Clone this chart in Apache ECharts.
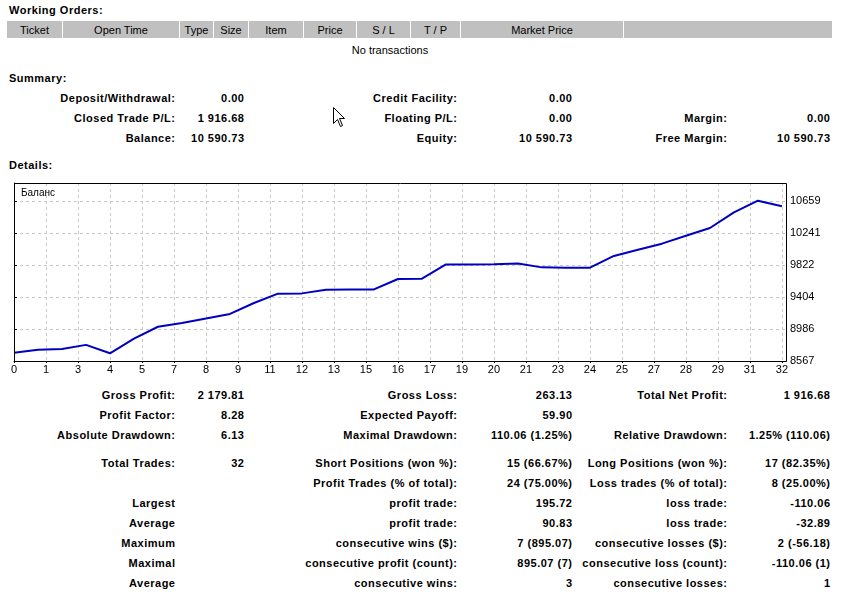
<!DOCTYPE html>
<html>
<head>
<meta charset="utf-8">
<script src="https://cdn.jsdelivr.net/npm/echarts@6/dist/echarts.min.js"></script>
<style>
  body { margin: 0; background: #fff; width: 841px; height: 592px; overflow: hidden; position: relative;
         font-family: "Liberation Sans", Arial, sans-serif; font-size: 11px; color: #000; }
  .t { position: absolute; white-space: nowrap; line-height: 14px; }
  .b { font-weight: bold; letter-spacing: 0.5px; }
  #hdr { position: absolute; left: 7px; top: 21px; width: 826px; height: 17px; background: #c0c0c0; }
  .hc { position: absolute; top: 0; height: 17px; line-height: 19px; text-align: center;
        border-right: 1px solid #fff; box-sizing: border-box; }
  #chart { position: absolute; left: 0; top: 175px; width: 841px; height: 205px; }
</style>
</head>
<body>
<div id="hdr"></div>
<div id="chart"></div>
<svg style="position:absolute;left:333px;top:107px" width="13" height="21">
  <path d="M0.5 0.5 L0.5 16.5 L4.5 12.5 L7.5 19.5 L9.5 18.5 L6.5 11.5 L11.5 11.5 Z" fill="#fff" stroke="#000" stroke-width="1"/>
</svg>
<script>
// balance after each closed trade (trade 0 = start)
const balance = [8674.05, 8715, 8724, 8777.98, 8667.92, 8859, 9015, 9064, 9124, 9182,
                 9325, 9447, 9451, 9499, 9503, 9503, 9639, 9643, 9830, 9830,
                 9832, 9843, 9791, 9787, 9787, 9940, 10022, 10101, 10205, 10306,
                 10510, 10663, 10590.73]
const xTickLabels = ['0','1','3','4','5','7','8','9','11','12','13','15','16','17','19','20','21','23','24','25','27','28','29','31','32']
const yTickLabels = ['8567','8986','9404','9822','10241','10659']
const yBase = 8567
const yStep = 418.4
const xStep = 4 / 3

// header of the orders table: [name, left, right]
const orderCols = [['Ticket',7,63],['Open Time',63,180],['Type',180,214],['Size',214,249],['Item',249,304],
                   ['Price',304,357],['S / L',357,411],['T / P',411,461],['Market Price',461,624],['',624,833]]

const summaryRows = [
  ['Deposit/Withdrawal:', '0.00', 'Credit Facility:', '0.00', '', ''],
  ['Closed Trade P/L:', '1 916.68', 'Floating P/L:', '0.00', 'Margin:', '0.00'],
  ['Balance:', '10 590.73', 'Equity:', '10 590.73', 'Free Margin:', '10 590.73']
]
const statRows = [
  ['Gross Profit:', '2 179.81', 'Gross Loss:', '263.13', 'Total Net Profit:', '1 916.68'],
  ['Profit Factor:', '8.28', 'Expected Payoff:', '59.90', '', ''],
  ['Absolute Drawdown:', '6.13', 'Maximal Drawdown:', '110.06 (1.25%)', 'Relative Drawdown:', '1.25% (110.06)'],
  ['Total Trades:', '32', 'Short Positions (won %):', '15 (66.67%)', 'Long Positions (won %):', '17 (82.35%)'],
  ['', '', 'Profit Trades (% of total):', '24 (75.00%)', 'Loss trades (% of total):', '8 (25.00%)'],
  ['Largest', '', 'profit trade:', '195.72', 'loss trade:', '-110.06'],
  ['Average', '', 'profit trade:', '90.83', 'loss trade:', '-32.89'],
  ['Maximum', '', 'consecutive wins ($):', '7 (895.07)', 'consecutive losses ($):', '2 (-56.18)'],
  ['Maximal', '', 'consecutive profit (count):', '895.07 (7)', 'consecutive loss (count):', '-110.06 (1)'],
  ['Average', '', 'consecutive wins:', '3', 'consecutive losses:', '1']
]
const statY = [395, 415, 435, 463, 483, 503, 523, 543, 563, 583]
const summaryY = [98, 118, 138]
const colRight = [175, 244, 457, 572, 727, 830]

function put(text, x, y, align, bold) {
  const d = document.createElement('div')
  d.className = 't' + (bold ? ' b' : '')
  d.textContent = text
  d.style.top = (y - 7) + 'px'
  if (align === 'right') d.style.right = (841 - x) + 'px'
  else if (align === 'center') { d.style.left = (x - 100) + 'px'; d.style.width = '200px'; d.style.textAlign = 'center' }
  else d.style.left = x + 'px'
  document.body.appendChild(d)
}

const hdr = document.getElementById('hdr')
orderCols.forEach(c => {
  const d = document.createElement('div')
  d.className = 'hc'
  d.style.left = (c[1] - 7) + 'px'
  d.style.width = (c[2] - c[1]) + 'px'
  d.textContent = c[0]
  hdr.appendChild(d)
})

put('Working Orders:', 9, 10, 'left', true)
put('No transactions', 390, 50, 'center', false)
put('Summary:', 9, 78, 'left', true)
put('Details:', 9, 165, 'left', true)
// bold cells are right-aligned; letter spacing leaves a trailing gap, so shift by it
summaryRows.forEach((r, i) => r.forEach((s, j) => { if (s) put(s, colRight[j] + 0.5, summaryY[i], 'right', true) }))
statRows.forEach((r, i) => r.forEach((s, j) => { if (s) put(s, colRight[j] + 0.5, statY[i], 'right', true) }))

const chart = echarts.init(document.getElementById('chart'))
chart.setOption({
  animation: false,
  title: { text: 'Баланс', left: 16, top: 8, textStyle: { fontSize: 10, fontWeight: 'normal', color: '#000', fontFamily: 'Liberation Sans' } },
  grid: { left: 14, top: 8, right: 55, bottom: 19 },
  // solid frame of the plot area, drawn over the dashed grid lines
  graphic: [{
    type: 'rect', z: 100, silent: true,
    shape: { x: 14.5, y: 8.5, width: 772, height: 178 },
    style: { fill: 'none', stroke: '#000', lineWidth: 1 }
  }],
  xAxis: {
    type: 'value', min: 0, max: 32.17, interval: xStep,
    axisLine: { lineStyle: { color: '#000' } },
    axisTick: { show: true, length: 2, lineStyle: { color: '#000' } },
    axisLabel: { color: '#000', fontSize: 11, margin: 3, fontFamily: 'Liberation Sans', showMaxLabel: false, interval: 0,
                 formatter: v => xTickLabels[Math.round(v / xStep)] || '' },
    splitLine: { showMinLine: false, showMaxLine: false, lineStyle: { color: '#c8c8c8', type: [3, 3] } }
  },
  yAxis: {
    type: 'value', position: 'right', min: 0, max: 2327, interval: yStep,
    axisLine: { show: true, lineStyle: { color: '#000' } },
    axisTick: { show: true, length: 3, lineStyle: { color: '#000' } },
    axisLabel: { color: '#000', fontSize: 11, margin: 4, fontFamily: 'Liberation Sans', showMaxLabel: false,
                 formatter: v => yTickLabels[Math.round(v / yStep)] || '' },
    splitLine: { showMinLine: false, showMaxLine: false, lineStyle: { color: '#c8c8c8', type: [3, 3] } }
  },
  series: [{
    type: 'line',
    data: balance.map((b, i) => [i, b - yBase]),
    showSymbol: false,
    lineStyle: { color: '#0000c0', width: 2 }
  }]
})
</script>
</body>
</html>
